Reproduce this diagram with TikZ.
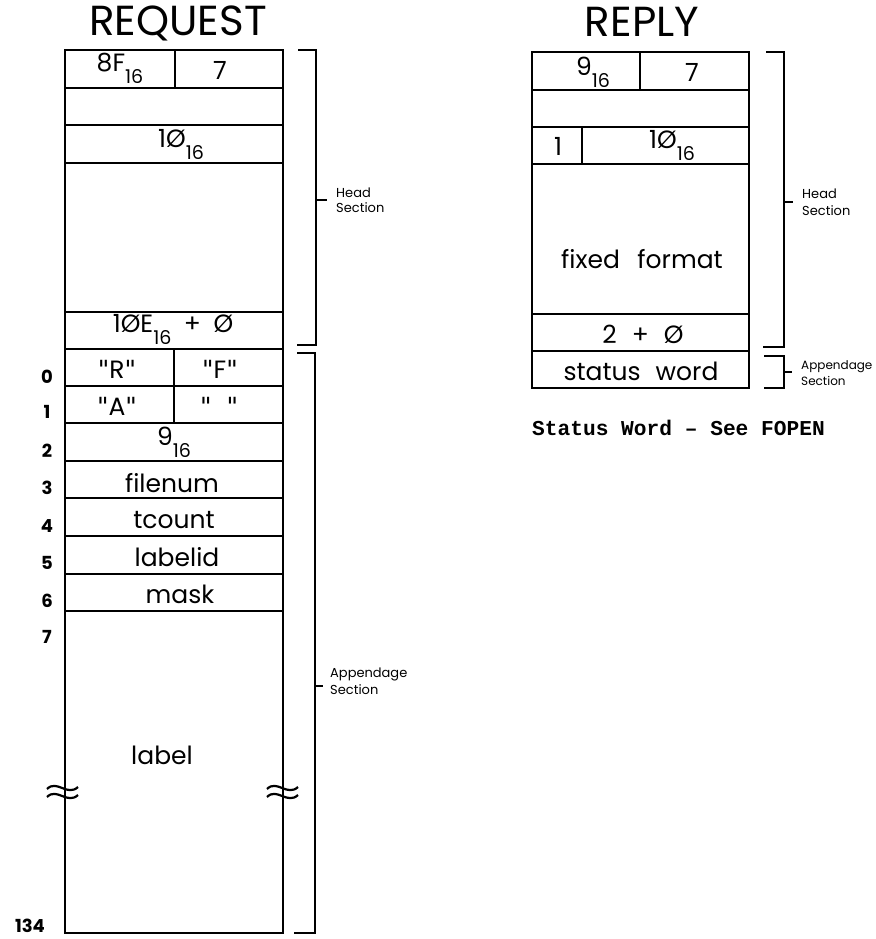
\documentclass[tikz,border=0pt]{standalone}
\usepackage{fontspec}
\setmainfont{Poppins}
\newfontfamily\monobold{Liberation Mono}
\newfontfamily\qfont{DejaVu Sans}
\newcommand{\hsub}[1]{\raisebox{-12pt}{\fontsize{19}{19}\selectfont #1}}
\newcommand{\qm}{{\qfont"}}
\tikzset{
 box/.style={line width=2.6pt},
 brk/.style={line width=2.2pt},
 cell/.style={anchor=base, inner sep=0pt, font=\fontsize{25}{25}\selectfont},
 ttl/.style={anchor=base, inner sep=0pt, font=\fontsize{42}{42}\selectfont},
 rownum/.style={anchor=base, inner sep=0pt, font=\fontsize{18}{18}\selectfont\bfseries},
 sect/.style={anchor=base west, inner sep=0pt, font=\fontsize{13}{13}\selectfont},
 wave/.style={line width=2.2pt},
}
\begin{document}
\begin{tikzpicture}[x=1pt,y=-1pt]
\useasboundingbox (0,0) rectangle (875,939);
% ---------- REQUEST ----------
\node[ttl] (rqT) at (178,36) {REQUEST};
\draw[box] (65,50) rectangle (283,933);
\foreach \yy in {88,125,163,312,349,386,423,461,498,536,574,611}
  \draw[box] (65,\yy) -- (283,\yy);
\draw[box] (175,50) -- (175,88);
\draw[box] (174,349) -- (174,423);
\node[cell] (r1a) at (120,72) {8F\hsub{16}};
\node[cell] (r1b) at (220,80) {7};
\node[cell] (r3) at (181,147) {1Ø\hsub{16}};
\node[cell] (r5) at (173,332) {1ØE\hsub{16}\hspace{0.5em}+\hspace{0.5em}Ø};
\node[cell] (a0a) at (117,378) {\qm R\qm};
\node[cell] (a0b) at (220,378) {\qm F\qm};
\node[cell] (a1a) at (117,415) {\qm A\qm};
\node[cell] (a1b) at (219,415) {\qm\hspace{0.6em}\qm};
\node[cell] (a2) at (174,445) {9\hsub{16}};
\node[cell] (a3) at (172,492) {filenum};
\node[cell] (a4) at (174,528) {tcount};
\node[cell] (a5) at (177,566) {labelid};
\node[cell] (a6) at (180,603) {mask};
\node[cell] (lab) at (162,764) {label};
\node[rownum] (n0) at (47,383) {0};
\node[rownum] (n1) at (47,418) {1};
\node[rownum] (n2) at (47,457) {2};
\node[rownum] (n3) at (47,494) {3};
\node[rownum] (n4) at (47,532) {4};
\node[rownum] (n5) at (47,569) {5};
\node[rownum] (n6) at (47,607) {6};
\node[rownum] (n7) at (47,643) {7};
\node[rownum] (n134) at (30,932) {134};
% break marks
\draw[wave] (47,789) .. controls (57,779) and (67,797) .. (78,787);
\draw[wave] (47,797) .. controls (57,787) and (67,805) .. (78,795);
\draw[wave] (267,789) .. controls (277,779) and (287,797) .. (298,787);
\draw[wave] (267,797) .. controls (277,787) and (287,805) .. (298,795);
% brackets
\draw[brk] (298,50) -- (316,50) -- (316,345) -- (297,345);
\draw[brk] (316,200) -- (327,200);
\node[sect] (hs1) at (336,197) {Head};
\node[sect] (hs2) at (336,212) {Section};
\draw[brk] (297,353) -- (315,353) -- (315,933) -- (294,933);
\draw[brk] (315,686) -- (323,686);
\node[sect] (as1) at (330,677) {Appendage};
\node[sect] (as2) at (330,694) {Section};
% ---------- REPLY ----------
\node[ttl] (rpT) at (642,37) {REPLY};
\draw[box] (532,52) rectangle (749,388);
\foreach \yy in {90,127,164,314,351}
  \draw[box] (532,\yy) -- (749,\yy);
\draw[box] (640,52) -- (640,90);
\draw[box] (582,127) -- (582,164);
\node[cell] (p1a) at (593,76) {9\hsub{16}};
\node[cell] (p1b) at (692,82) {7};
\node[cell] (p3a) at (558,155) {1};
\node[cell] (p3b) at (672,148) {1Ø\hsub{16}};
\node[cell] (pff) at (642,268) {fixed\hspace{0.7em}format};
\node[cell] (p5) at (643,343) {2\hspace{0.6em}+\hspace{0.6em}Ø};
\node[cell] (psw) at (641,380) {status\hspace{0.6em}word};
\draw[brk] (766,52) -- (784,52) -- (784,347) -- (763,347);
\draw[brk] (784,202) -- (793,202);
\node[sect] (ph1) at (802,198) {Head};
\node[sect] (ph2) at (802,215) {Section};
\draw[brk] (764,356) -- (784,356) -- (784,388) -- (764,388);
\draw[brk] (784,372) -- (792,372);
\node[sect, font=\fontsize{12}{12}\selectfont] (pa1) at (801,369) {Appendage};
\node[sect, font=\fontsize{12}{12}\selectfont] (pa2) at (801,385) {Section};
\node[anchor=base west, inner sep=0pt, font=\fontsize{21.2}{21.2}\selectfont\monobold\bfseries] (note) at (532,435) {Status Word – See FOPEN};
\end{tikzpicture}
\end{document}
